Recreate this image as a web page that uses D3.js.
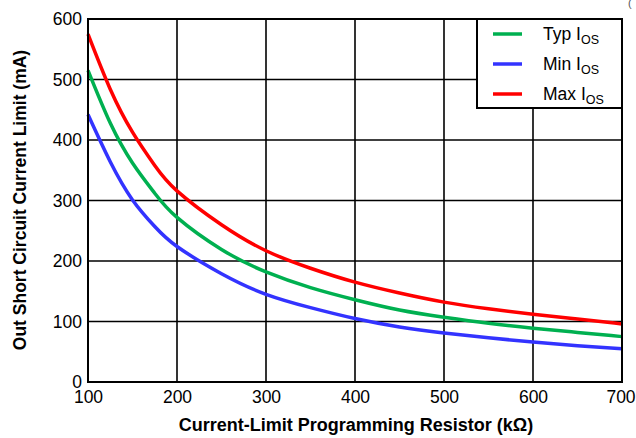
<!DOCTYPE html>
<html>
<head>
<meta charset="utf-8">
<script src="https://cdn.jsdelivr.net/npm/d3@7"></script>
<style>
  body { margin: 0; background: #fff; }
  svg text { font-family: "Liberation Sans", Arial, sans-serif; }
</style>
</head>
<body>
<svg id="chart" width="636" height="438"></svg>
<script>
// values (kOhm -> mA)
var resistance = [100, 125, 150, 175, 200, 250, 300, 350, 400, 450, 500, 550, 600, 650, 700];
var typIos = [515, 428, 362, 312, 272, 219, 182, 156, 136, 119, 107, 97, 89, 82, 75];
var minIos = [442, 364, 301, 257, 224, 179, 145, 123, 105, 91, 81, 73, 66, 60, 55];
var maxIos = [575, 484, 413, 358, 316, 260, 217, 188, 165, 147, 132, 121, 112, 104, 96];
var xTicks = [100, 200, 300, 400, 500, 600, 700];
var yTicks = [0, 100, 200, 300, 400, 500, 600];

var series = [
    {name: "Typ", values: typIos, color: "#00b050"},
    {name: "Min", values: minIos, color: "#3333ff"},
    {name: "Max", values: maxIos, color: "#ff0000"}
];

var svg = d3.select("#chart"),
    plotL = 88, plotR = 622, plotT = 19, plotB = 382;

var x = d3.scaleLinear().domain([100, 700]).range([plotL, plotR]),
    y = d3.scaleLinear().domain([0, 600]).range([plotB, plotT]);

// grid
var grid = svg.append("g").attr("stroke", "#000").attr("stroke-width", 1.6);
grid.selectAll(".vg").data(xTicks.slice(1, -1)).enter().append("line")
    .attr("x1", function(d){ return x(d); }).attr("x2", function(d){ return x(d); })
    .attr("y1", plotT).attr("y2", plotB);
grid.selectAll(".hg").data(yTicks.slice(1, -1)).enter().append("line")
    .attr("x1", plotL).attr("x2", plotR)
    .attr("y1", function(d){ return y(d); }).attr("y2", function(d){ return y(d); });

// axes (labels only, frame drawn separately)
var xAxis = svg.append("g").attr("transform", "translate(0," + plotB + ")")
    .call(d3.axisBottom(x).tickValues(xTicks).tickSize(0).tickPadding(9));
var yAxis = svg.append("g").attr("transform", "translate(" + plotL + ",0)")
    .call(d3.axisLeft(y).tickValues(yTicks).tickSize(0).tickPadding(6));
[xAxis, yAxis].forEach(function(a){
    a.select(".domain").remove();
    a.selectAll("text").attr("fill", "#000").style("font-size", "17.5px");
});
xAxis.selectAll(".tick:last-of-type text").attr("dx", -1.5);

// curves
var line = d3.line()
    .x(function(d, i){ return x(resistance[i]); })
    .y(function(d){ return y(d); })
    .curve(d3.curveNatural);

svg.append("g").selectAll("path").data(series).enter().append("path")
    .attr("d", function(s){ return line(s.values); })
    .attr("fill", "none")
    .attr("stroke", function(s){ return s.color; })
    .attr("stroke-width", 3.5);

// frame
svg.append("rect")
    .attr("x", plotL).attr("y", plotT)
    .attr("width", plotR - plotL).attr("height", plotB - plotT)
    .attr("fill", "none").attr("stroke", "#000").attr("stroke-width", 2);

// legend
var legend = svg.append("g");
legend.append("rect")
    .attr("x", 477).attr("y", plotT).attr("width", plotR - 477).attr("height", 89)
    .attr("fill", "#fff").attr("stroke", "#000").attr("stroke-width", 2);
series.forEach(function(s, i){
    var ly = 34 + i * 30;
    legend.append("line")
        .attr("x1", 493).attr("x2", 522).attr("y1", ly).attr("y2", ly)
        .attr("stroke", s.color).attr("stroke-width", 3.5);
    var t = legend.append("text").attr("x", 543).attr("y", ly + 6)
        .style("font-size", "17.5px").attr("fill", "#000");
    t.append("tspan").text(s.name + " I");
    t.append("tspan").attr("dy", 4).style("font-size", "12.5px").text("OS");
});

// titles
svg.append("text")
    .attr("x", 356).attr("y", 431)
    .attr("text-anchor", "middle")
    .style("font-size", "18px").style("font-weight", "bold")
    .text("Current-Limit Programming Resistor (k\u03A9)");

svg.append("text")
    .attr("transform", "translate(26,200) rotate(-90)")
    .attr("text-anchor", "middle")
    .style("font-size", "17.5px").style("font-weight", "bold")
    .text("Out Short Circuit Current Limit (mA)");

svg.append("text")
    .attr("x", 628).attr("y", 7)
    .style("font-size", "11px").attr("fill", "#555")
    .text("(");
</script>
</body>
</html>
